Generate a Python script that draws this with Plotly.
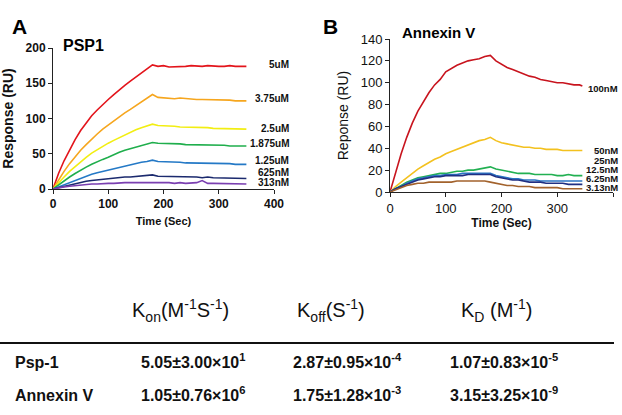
import plotly.graph_objects as go

# ---- data ----
time_a = list(range(0, 360, 10))
psp1_series = {
    '5uM': [0, 22, 40, 56, 70, 83, 94, 104, 112, 120, 127, 134, 141, 147, 153, 159, 165, 170, 176,
            174, 175, 173, 173, 174, 174, 175, 174, 174, 175, 174, 174, 174, 175, 174, 174, 174],
    '3.75uM': [0, 13, 25, 36, 46, 55, 63, 71, 78, 85, 91, 97, 103, 108, 113, 118, 123, 128, 134,
               130, 129, 129, 128, 129, 128, 128, 127, 127, 127, 126, 127, 126, 126, 125, 125, 125],
    '2.5uM': [0, 9, 17, 25, 32, 39, 45, 51, 56, 61, 65, 69, 73, 77, 80, 84, 87, 89, 92,
              90, 90, 89, 89, 88, 88, 88, 87, 87, 87, 86, 86, 86, 86, 85, 85, 85],
    '1.875uM': [0, 6, 12, 17, 22, 27, 31, 35, 39, 42, 45, 49, 52, 55, 57, 60, 62, 64, 66,
                65, 65, 64, 64, 64, 63, 63, 63, 63, 62, 62, 62, 62, 61, 61, 61, 61],
    '1.25uM': [0, 3, 7, 10, 13, 16, 19, 21, 23, 25, 27, 29, 31, 33, 35, 36, 38, 39, 41,
               39, 39, 38, 38, 38, 37, 37, 37, 37, 36, 36, 36, 36, 36, 35, 35, 35],
    '625nM': [0, 2, 4, 6, 8, 10, 11, 12, 13, 14, 15, 15, 16, 17, 17, 18, 18, 19, 20,
              18, 18, 17, 17, 18, 17, 17, 17, 16, 17, 16, 16, 16, 16, 15, 15, 15],
    '313nM': [0, 2, 3, 4, 5, 6, 6, 7, 7, 8, 8, 8, 9, 9, 9, 9, 9, 10, 10,
              9, 9, 9, 8, 9, 8, 8, 9, 12, 8, 8, 8, 8, 7, 7, 7, 7],
}
psp1_colors = ['#e3141b', '#f6a61e', '#f2ee12', '#1fae4c', '#2479c6', '#1b2a6e', '#7a3fb0']
psp1_label_y = [176, 128, 86, 65, 40, 23, 9]

time_b = list(range(0, 350, 10)) + [345]
annexin_series = {
    '100nM': [0, 18, 35, 50, 63, 74, 83, 91, 98, 103, 110, 113, 116, 118, 120, 121, 122, 124, 125,
              120, 117, 114, 112, 110, 108, 106, 105, 103, 102, 101, 100, 100, 99, 98, 98, 97],
    '50nM': [0, 5, 9, 13, 17, 21, 24, 27, 30, 32, 35, 37, 39, 41, 43, 45, 47, 48, 50,
             47, 45, 44, 43, 42, 41, 41, 40, 40, 39, 39, 39, 38, 38, 38, 38, 38],
    '25nM': [0, 3, 6, 9, 11, 13, 14, 15, 16, 17, 17, 18, 19, 19, 20, 20, 21, 22, 23,
             21, 20, 19, 18, 17, 17, 17, 16, 16, 16, 16, 15, 15, 16, 15, 15, 15],
    '12.5nM': [0, 3, 5, 8, 10, 12, 13, 14, 15, 15, 16, 16, 16, 17, 17, 17, 17, 17, 17,
               15, 14, 13, 12, 12, 11, 11, 11, 10, 10, 10, 10, 10, 10, 10, 10, 10],
    '6.25nM': [0, 3, 5, 7, 9, 11, 12, 13, 14, 14, 15, 15, 15, 15, 16, 16, 16, 16, 16,
               14, 13, 12, 11, 11, 10, 9, 9, 9, 8, 8, 8, 8, 7, 7, 7, 7],
    '3.13nM': [0, 2, 4, 6, 7, 8, 8, 9, 9, 9, 9, 9, 10, 10, 10, 10, 10, 10, 9,
               8, 7, 6, 6, 5, 5, 5, 4, 4, 4, 4, 4, 3, 3, 3, 3, 3],
}
annexin_colors = ['#c8141e', '#f3c11f', '#22b052', '#2b74c4', '#1f2f82', '#a2622c']
annexin_label_y = [95, 38, 29, 20.5, 12.5, 4]

# kinetics table
table_header = ['K<sub>on</sub>(M<sup>-1</sup>S<sup>-1</sup>)', 'K<sub>off</sub>(S<sup>-1</sup>)',
                'K<sub>D</sub> (M<sup>-1</sup>)']
table_rows = ['Psp-1', 'Annexin V']
table_values = [
    ['5.05±3.00×10<sup>1</sup>', '2.87±0.95×10<sup>-4</sup>', '1.07±0.83×10<sup>-5</sup>'],
    ['1.05±0.76×10<sup>6</sup>', '1.75±1.28×10<sup>-3</sup>', '3.15±3.25×10<sup>-9</sup>'],
]

FONT = 'Arial, Liberation Sans, sans-serif'
W, H = 622, 415


def px(x):
    return x / W


def py(y):
    return 1 - y / H


fig = go.Figure()

for (name, vals), col in zip(psp1_series.items(), psp1_colors):
    fig.add_trace(go.Scatter(x=time_a, y=vals, mode='lines', name=name,
                             line=dict(color=col, width=1.6), xaxis='x', yaxis='y'))
for (name, vals), col in zip(annexin_series.items(), annexin_colors):
    fig.add_trace(go.Scatter(x=time_b, y=vals, mode='lines', name=name,
                             line=dict(color=col, width=1.6), xaxis='x2', yaxis='y2'))

axis_common = dict(showgrid=False, zeroline=False, showline=True, linecolor='#222', linewidth=1,
                   ticks='outside', ticklen=4, tickcolor='#222', automargin=False)

annotations = []
# concentration labels (right of each panel, y in data units)
for name, yv in zip(psp1_series.keys(), psp1_label_y):
    annotations.append(dict(x=px(291), y=yv, xref='paper', yref='y', text='<b>' + name + '</b>',
                            showarrow=False, xanchor='right',
                            font=dict(size=10, family=FONT, color='#111')))
for name, yv in zip(annexin_series.keys(), annexin_label_y):
    annotations.append(dict(x=px(620), y=yv, xref='paper', yref='y2', text='<b>' + name + '</b>',
                            showarrow=False, xanchor='right',
                            font=dict(size=9.5, family=FONT, color='#111')))

# panel letters and titles
annotations += [
    dict(x=px(10), y=py(13), xref='paper', yref='paper', text='<b>A</b>', showarrow=False,
         xanchor='left', font=dict(size=21, family=FONT, color='#000')),
    dict(x=px(321), y=py(13), xref='paper', yref='paper', text='<b>B</b>', showarrow=False,
         xanchor='left', font=dict(size=21, family=FONT, color='#000')),
    dict(x=px(61), y=py(35), xref='paper', yref='paper', text='<b>PSP1</b>', showarrow=False,
         xanchor='left', font=dict(size=16, family=FONT, color='#000')),
    dict(x=px(400), y=py(22), xref='paper', yref='paper', text='<b>Annexin V</b>', showarrow=False,
         xanchor='left', font=dict(size=15, family=FONT, color='#000')),
]

# table
header_x = [180, 331, 496]
value_x = [193, 347, 504]
for hx, txt in zip(header_x, table_header):
    annotations.append(dict(x=px(hx), y=py(327), xref='paper', yref='paper', text=txt,
                            showarrow=False, xanchor='center',
                            font=dict(size=20, family=FONT, color='#111')))
for row, ry, vals in zip(table_rows, [373, 406], table_values):
    annotations.append(dict(x=px(13), y=py(ry), xref='paper', yref='paper', text='<b>' + row + '</b>',
                            showarrow=False, xanchor='left',
                            font=dict(size=16, family=FONT, color='#111')))
    for vx, v in zip(value_x, vals):
        annotations.append(dict(x=px(vx), y=py(ry), xref='paper', yref='paper', text='<b>' + v + '</b>',
                                showarrow=False, xanchor='center',
                                font=dict(size=16, family=FONT, color='#111')))

fig.update_layout(
    width=W, height=H,
    margin=dict(l=0, r=0, t=0, b=0),
    paper_bgcolor='white', plot_bgcolor='white',
    showlegend=False,
    font=dict(family=FONT, color='#111'),
    xaxis=dict(axis_common, domain=[px(53), px(274)], range=[0, 400], dtick=100,
               tickfont=dict(size=12, family=FONT), tickprefix='<b>', ticksuffix='</b>',
               title=dict(text='<b>Time (Sec)</b>', font=dict(size=11), standoff=6)),
    yaxis=dict(axis_common, domain=[py(189), py(48)], range=[0, 200], dtick=50,
               tickfont=dict(size=12, family=FONT), tickprefix='<b>', ticksuffix='</b>',
               title=dict(text='<b>Response (RU)</b>', font=dict(size=14), standoff=8)),
    xaxis2=dict(axis_common, domain=[px(390), px(613)], range=[0, 400], dtick=100, anchor='y2',
                tickfont=dict(size=13, family=FONT),
                title=dict(text='<b>Time (Sec)</b>', font=dict(size=12), standoff=2)),
    yaxis2=dict(axis_common, domain=[py(192), py(39)], range=[0, 140], dtick=20, anchor='x2',
                tickfont=dict(size=13, family=FONT),
                title=dict(text='Reponse (RU)', font=dict(size=14), standoff=8)),
    annotations=annotations,
    shapes=[dict(type='line', xref='paper', yref='paper', x0=0, x1=px(614), y0=py(343), y1=py(343),
                 line=dict(color='#111', width=2))],
)

# drop the default page margin so the 622x415 figure fills the window exactly
fig.write_html('out.html', config={'displayModeBar': False},
               post_script="document.body.style.margin='0';document.body.style.overflow='hidden';")
